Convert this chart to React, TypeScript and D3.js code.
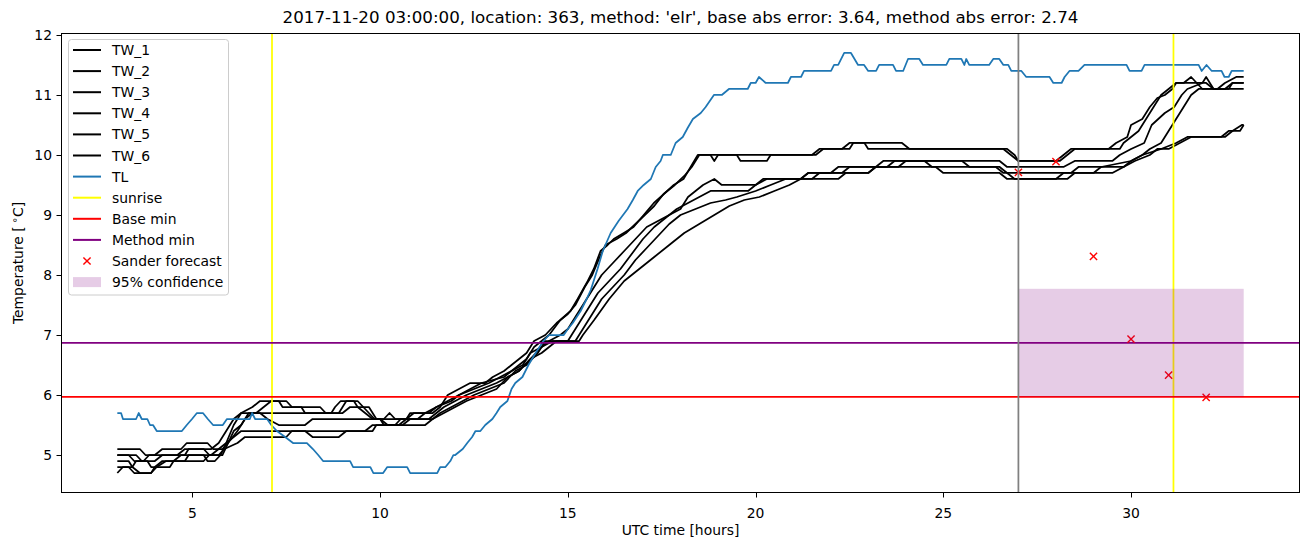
import React from 'react';
import * as d3 from 'd3';

type P = [number, number];

const TW_1: P[] = [[3,5.0],[3.3,5.0],[3.45,4.9],[3.7,4.9],[3.85,5.0],[4.8,5.0],[4.9,5.1],[5.5,5.1],[5.7,5.2],[5.9,5.4],[6.1,5.6],[6.3,5.7],[6.7,5.7],[6.9,5.8],[7.1,5.9],[7.5,5.9],[7.65,5.8],[8.4,5.8],[8.55,5.7],[8.9,5.7],[9.0,5.8],[9.1,5.9],[9.4,5.9],[9.55,5.8],[9.7,5.7],[9.85,5.6],[10.1,5.6],[10.25,5.7],[10.4,5.6],[11.0,5.6],[11.2,5.7],[11.5,5.8],[11.9,5.9],[12.1,6.0],[12.4,6.1],[12.7,6.2],[13.3,6.3],[13.5,6.4],[13.7,6.5],[13.9,6.6],[14.1,6.8],[14.3,6.9],[14.5,7.0],[14.8,7.25],[15.07,7.4],[15.26,7.6],[15.53,7.9],[15.69,8.1],[15.87,8.4],[16.06,8.5],[16.22,8.6],[16.49,8.7],[16.75,8.8],[17.02,9.0],[17.29,9.2],[17.47,9.3],[17.82,9.5],[18.08,9.6],[18.27,9.8],[18.46,10.0],[18.8,10.0],[18.9,9.9],[19.0,10.0],[21.5,10.0],[21.7,10.1],[22.3,10.1],[22.5,10.2],[23.9,10.2],[24.1,10.1],[26.6,10.1],[26.8,10.0],[27.0,9.9],[28.0,9.9],[28.2,10.0],[28.4,10.1],[29.4,10.1],[29.6,10.2],[29.9,10.3],[30.0,10.5],[30.3,10.6],[30.5,10.8],[30.7,10.95],[30.9,11.0],[31.1,11.1],[31.2,11.2],[32.0,11.2],[32.2,11.1],[32.5,11.1],[32.7,11.2],[33,11.2]];
const TW_2: P[] = [[3,4.9],[3.3,4.9],[3.4,4.8],[3.6,4.7],[3.9,4.7],[4.0,4.8],[4.2,4.9],[4.8,4.9],[4.9,5.0],[5.3,5.0],[5.4,4.9],[5.6,4.9],[5.75,5.0],[5.9,5.2],[6.1,5.5],[6.3,5.7],[6.6,5.8],[6.8,5.9],[7.3,5.9],[7.4,5.8],[7.9,5.8],[8.0,5.7],[8.7,5.7],[8.8,5.8],[8.95,5.9],[9.3,5.9],[9.4,5.8],[9.7,5.8],[9.8,5.7],[9.9,5.6],[10.0,5.6],[10.1,5.5],[10.4,5.5],[10.55,5.6],[10.7,5.6],[10.8,5.7],[11.4,5.7],[11.6,5.8],[11.8,6.0],[12.1,6.1],[12.4,6.2],[12.8,6.2],[13.0,6.3],[13.3,6.4],[13.5,6.5],[13.7,6.6],[13.9,6.7],[14.1,6.9],[14.4,7.0],[14.7,7.2],[15.0,7.35],[15.2,7.5],[15.45,7.8],[15.65,8.0],[15.85,8.3],[16.0,8.5],[16.3,8.6],[16.55,8.7],[16.8,8.85],[17.05,9.0],[17.3,9.15],[17.55,9.35],[17.85,9.5],[18.1,9.65],[18.3,9.8],[18.5,10.0],[19.5,10.0],[19.6,9.9],[20.3,9.9],[20.4,10.0],[21.6,10.0],[21.8,10.1],[22.5,10.1],[22.6,10.2],[22.9,10.2],[23.0,10.1],[26.7,10.1],[26.9,10.0],[27.0,9.9],[28.1,9.9],[28.3,10.0],[28.5,10.1],[29.7,10.1],[29.8,10.2],[30.0,10.3],[30.2,10.4],[30.4,10.6],[30.6,10.8],[30.8,11.0],[31.0,11.1],[31.2,11.2],[31.4,11.2],[31.6,11.3],[31.75,11.2],[31.9,11.1],[32.3,11.1],[32.5,11.2],[32.8,11.3],[33,11.3]];
const TW_3: P[] = [[3,5.1],[3.6,5.1],[3.75,5.0],[4.0,5.0],[4.2,5.1],[4.7,5.1],[4.85,5.2],[5.4,5.2],[5.55,5.1],[5.8,5.1],[5.95,5.2],[6.1,5.4],[6.3,5.5],[6.5,5.7],[9.0,5.7],[9.2,5.8],[9.4,5.8],[9.6,5.7],[9.8,5.6],[10.7,5.6],[10.9,5.7],[11.3,5.7],[11.5,5.8],[11.8,5.9],[12.1,6.0],[12.5,6.1],[12.9,6.2],[13.2,6.3],[13.5,6.4],[13.8,6.5],[14.0,6.7],[14.3,6.8],[14.5,6.9],[14.8,7.0],[15.0,7.1],[15.2,7.3],[15.4,7.5],[15.6,7.7],[15.9,8.0],[16.2,8.2],[16.5,8.4],[16.8,8.6],[17.1,8.8],[17.4,8.9],[17.7,9.0],[18.0,9.1],[18.2,9.3],[18.4,9.4],[18.6,9.5],[18.9,9.6],[19.1,9.5],[20.0,9.5],[20.2,9.6],[21.2,9.6],[21.4,9.7],[22.3,9.7],[22.5,9.8],[23.2,9.8],[23.4,9.9],[26.5,9.9],[26.7,9.8],[28.2,9.8],[28.5,9.9],[29.5,9.9],[29.7,10.0],[30.0,10.1],[30.35,10.2],[30.55,10.5],[30.9,10.7],[31.15,10.8],[31.35,11.0],[31.5,11.1],[31.9,11.2],[32.0,11.3],[32.2,11.1],[32.6,11.1],[32.7,11.2],[33,11.2]];
const TW_4: P[] = [[3,4.8],[3.4,4.8],[3.5,4.9],[3.8,4.9],[3.9,4.8],[4.4,4.8],[4.5,4.9],[4.7,5.0],[5.5,5.0],[5.7,5.1],[5.9,5.2],[6.1,5.3],[6.3,5.4],[9.6,5.4],[9.8,5.5],[10.5,5.5],[10.7,5.6],[11.4,5.6],[11.6,5.7],[11.9,5.8],[12.2,5.9],[12.5,6.0],[12.9,6.1],[13.3,6.2],[13.6,6.4],[13.9,6.5],[14.2,6.7],[14.4,6.9],[15.0,6.9],[15.1,7.0],[15.2,7.1],[15.5,7.4],[15.8,7.7],[16.1,7.9],[16.4,8.1],[16.7,8.35],[17.0,8.6],[17.3,8.8],[17.6,8.95],[17.9,9.1],[18.2,9.2],[18.5,9.3],[18.8,9.4],[19.8,9.4],[20.0,9.5],[20.3,9.6],[21.5,9.6],[21.7,9.7],[22.0,9.7],[22.2,9.8],[23.5,9.8],[23.7,9.9],[24.5,9.9],[24.7,9.8],[26.4,9.8],[26.6,9.7],[28.4,9.7],[28.6,9.8],[29.8,9.8],[30.0,9.9],[30.3,10.0],[30.5,10.1],[30.8,10.2],[31.0,10.4],[31.2,10.6],[31.4,10.8],[31.6,11.0],[31.8,11.1],[33,11.1]];
const TW_5: P[] = [[3,4.7],[3.15,4.8],[3.3,4.8],[3.45,4.7],[3.9,4.7],[4.05,4.8],[4.3,4.9],[5.3,4.9],[5.45,5.0],[5.7,5.0],[5.85,5.1],[6.2,5.2],[6.4,5.3],[7.5,5.3],[7.65,5.4],[8.0,5.4],[8.2,5.3],[8.9,5.3],[9.1,5.4],[9.8,5.4],[9.9,5.5],[11.2,5.5],[11.4,5.6],[11.7,5.7],[12.0,5.8],[12.3,5.9],[12.7,6.0],[13.1,6.1],[13.4,6.3],[13.7,6.4],[14.0,6.6],[14.3,6.7],[14.5,6.8],[14.7,6.9],[15.2,6.9],[15.3,7.0],[15.6,7.3],[15.9,7.6],[16.2,7.8],[16.5,8.0],[16.8,8.25],[17.1,8.45],[17.4,8.65],[17.7,8.85],[18.0,9.0],[18.4,9.1],[18.8,9.2],[19.2,9.25],[19.5,9.3],[20.0,9.4],[20.4,9.5],[20.8,9.6],[22.2,9.6],[22.4,9.7],[23.0,9.7],[23.2,9.8],[23.8,9.8],[24.0,9.9],[25.5,9.9],[25.7,9.8],[26.5,9.8],[26.7,9.7],[26.9,9.6],[28.0,9.6],[28.2,9.7],[29.0,9.7],[29.2,9.8],[30.0,9.9],[30.3,10.0],[30.8,10.1],[31.2,10.2],[31.5,10.3],[32.4,10.3],[32.6,10.4],[32.9,10.4],[33,10.5]];
const TW_6: P[] = [[3,5.0],[3.5,5.0],[3.65,4.9],[4.0,4.9],[4.2,5.0],[4.6,5.0],[4.8,5.1],[5.3,5.1],[5.45,5.0],[5.8,5.0],[5.95,5.2],[6.2,5.4],[6.4,5.6],[6.6,5.7],[6.8,5.7],[7.0,5.6],[7.3,5.5],[8.0,5.5],[8.2,5.6],[10.0,5.6],[10.2,5.5],[10.6,5.5],[10.8,5.6],[11.3,5.6],[11.5,5.7],[11.7,5.8],[12.0,5.9],[12.3,6.0],[12.7,6.1],[13.1,6.2],[13.4,6.3],[13.7,6.4],[14.0,6.6],[14.3,6.8],[14.6,6.9],[15.3,6.9],[15.4,7.0],[15.7,7.25],[16.1,7.6],[16.5,7.9],[16.9,8.1],[17.3,8.3],[17.7,8.5],[18.1,8.7],[18.5,8.85],[18.9,9.0],[19.3,9.15],[19.7,9.25],[20.1,9.3],[20.5,9.4],[20.9,9.5],[21.2,9.6],[21.4,9.7],[23.0,9.7],[23.2,9.8],[24.8,9.8],[25.0,9.7],[26.5,9.7],[26.7,9.6],[28.3,9.6],[28.5,9.7],[29.5,9.7],[29.8,9.8],[30.1,9.9],[30.5,10.0],[30.7,10.1],[31.0,10.1],[31.3,10.2],[31.6,10.3],[32.5,10.3],[32.7,10.4],[32.95,10.5],[33,10.5]];
const TL: P[] = [[3.0,5.7],[3.1,5.7],[3.15,5.6],[3.5,5.6],[3.57,5.7],[3.65,5.6],[3.8,5.6],[3.87,5.5],[3.95,5.5],[4.05,5.4],[4.72,5.4],[4.85,5.5],[4.99,5.6],[5.12,5.7],[5.28,5.7],[5.41,5.6],[5.55,5.5],[5.81,5.5],[5.92,5.6],[6.53,5.6],[6.59,5.7],[6.67,5.6],[6.99,5.6],[7.1,5.5],[7.25,5.4],[7.47,5.3],[7.68,5.2],[8.05,5.2],[8.21,5.1],[8.35,5.0],[8.48,4.9],[9.2,4.9],[9.28,4.8],[9.74,4.8],[9.82,4.7],[10.08,4.7],[10.19,4.8],[10.72,4.8],[10.8,4.7],[11.52,4.7],[11.6,4.8],[11.74,4.8],[11.87,4.9],[11.95,5.0],[12.0,5.0],[12.2,5.1],[12.32,5.2],[12.45,5.3],[12.54,5.4],[12.67,5.4],[12.8,5.5],[12.99,5.6],[13.1,5.7],[13.2,5.8],[13.39,5.9],[13.5,6.1],[13.6,6.2],[13.79,6.3],[13.95,6.5],[14.14,6.7],[14.35,6.9],[14.5,7.0],[14.62,7.0],[14.89,7.0],[15.0,7.1],[15.13,7.2],[15.34,7.4],[15.5,7.6],[15.61,7.75],[15.79,8.1],[15.93,8.4],[16.14,8.7],[16.35,8.9],[16.59,9.1],[16.73,9.25],[16.86,9.4],[17.02,9.5],[17.21,9.6],[17.34,9.8],[17.47,9.9],[17.53,10.0],[17.74,10.0],[17.87,10.2],[18.06,10.3],[18.19,10.45],[18.33,10.6],[18.54,10.7],[18.67,10.8],[18.89,11.0],[19.1,11.0],[19.29,11.1],[19.79,11.1],[19.87,11.2],[20.0,11.2],[20.09,11.3],[20.27,11.2],[20.86,11.2],[20.94,11.3],[21.21,11.3],[21.29,11.4],[22.01,11.4],[22.09,11.5],[22.2,11.5],[22.36,11.7],[22.54,11.7],[22.73,11.5],[22.89,11.5],[23.0,11.4],[23.21,11.4],[23.29,11.5],[23.66,11.5],[23.74,11.4],[23.93,11.4],[24.06,11.6],[24.36,11.6],[24.46,11.5],[25.08,11.5],[25.16,11.6],[25.48,11.6],[25.56,11.5],[25.61,11.6],[25.69,11.5],[26.22,11.5],[26.33,11.6],[26.49,11.6],[26.6,11.5],[26.73,11.5],[26.81,11.4],[27.08,11.4],[27.21,11.3],[27.83,11.3],[27.93,11.2],[28.15,11.2],[28.23,11.3],[28.36,11.4],[28.6,11.4],[28.76,11.5],[29.88,11.5],[29.96,11.4],[30.28,11.4],[30.36,11.5],[31.8,11.5],[31.88,11.4],[32.01,11.5],[32.15,11.4],[32.41,11.4],[32.49,11.3],[32.6,11.3],[32.68,11.4],[33.0,11.4]];

const TW_NAMES = ['TW_1', 'TW_2', 'TW_3', 'TW_4', 'TW_5', 'TW_6'];
const TW_SERIES = [TW_1, TW_2, TW_3, TW_4, TW_5, TW_6];
const SUNRISE = [7.12, 31.13];
const FORECAST_TIME = 27;
const BASE_MIN = 5.97;
const METHOD_MIN = 6.87;
const SANDER_T = [27, 28, 29, 30, 31, 32];
const SANDER_V = [9.71, 9.89, 8.31, 6.93, 6.33, 5.96];
const CONF_T = [27, 33];
const CONF_V = [5.97, 7.77];
const X_TICKS = [5, 10, 15, 20, 25, 30];
const Y_TICKS = [5, 6, 7, 8, 9, 10, 11, 12];
const TITLE = "2017-11-20 03:00:00, location: 363, method: 'elr', base abs error: 3.64, method abs error: 2.74";

const W = 1311, H = 547;
const L = 61, R = 1300, T = 33, B = 493;
const FONT = 'DejaVu Sans, sans-serif';
const FS = 13.9;

export default function App() {
  const x = d3.scaleLinear().domain([1.5, 34.5]).range([L, R]);
  const y = d3.scaleLinear().domain([4.367, 12.033]).range([B, T]);
  const line = d3.line<P>().x(d => x(d[0])).y(d => y(d[1]));
  const lw = 1.75;

  const legendItems: { label: string; kind: string; color: string }[] = [
    ...TW_NAMES.map(n => ({ label: n, kind: 'line', color: '#000000' })),
    { label: 'TL', kind: 'line', color: '#1f77b4' },
    { label: 'sunrise', kind: 'line', color: '#ffff00' },
    { label: 'Base min', kind: 'line', color: '#ff0000' },
    { label: 'Method min', kind: 'line', color: '#800080' },
    { label: 'Sander forecast', kind: 'marker', color: '#ff0000' },
    { label: '95% confidence', kind: 'patch', color: '#800080' },
  ];

  const xMark = (cx: number, cy: number, s: number, key: string) => (
    <g key={key} stroke="#ff0000" strokeWidth={1.4}>
      <line x1={cx - s} y1={cy - s} x2={cx + s} y2={cy + s} />
      <line x1={cx - s} y1={cy + s} x2={cx + s} y2={cy - s} />
    </g>
  );

  return (
    <svg width={W} height={H} style={{ position: 'absolute', left: 0, top: 0, background: '#fff' }} fontFamily={FONT}>
      <rect x={0} y={0} width={W} height={H} fill="#ffffff" />
      <defs>
        <clipPath id="plotclip"><rect x={L} y={T} width={R - L} height={B - T} /></clipPath>
      </defs>
      <g clipPath="url(#plotclip)">
        {TW_SERIES.map((s, i) => (
          <path key={i} d={line(s) || ''} fill="none" stroke="#000" strokeWidth={lw} strokeLinejoin="round" />
        ))}
        <path d={line(TL) || ''} fill="none" stroke="#1f77b4" strokeWidth={lw} strokeLinejoin="round" />
        {SUNRISE.map((t, i) => (
          <line key={i} x1={x(t)} x2={x(t)} y1={T} y2={B} stroke="#ffff00" strokeWidth={lw} />
        ))}
        <line x1={L} x2={R} y1={y(BASE_MIN)} y2={y(BASE_MIN)} stroke="#ff0000" strokeWidth={lw} />
        <line x1={L} x2={R} y1={y(METHOD_MIN)} y2={y(METHOD_MIN)} stroke="#800080" strokeWidth={lw} />
        {SANDER_T.map((t, i) => xMark(x(t), y(SANDER_V[i]), 3.6, 's' + i))}
        <rect x={x(CONF_T[0])} y={y(CONF_V[1])} width={x(CONF_T[1]) - x(CONF_T[0])} height={y(CONF_V[0]) - y(CONF_V[1])} fill="#800080" fillOpacity={0.2} />
        <line x1={x(FORECAST_TIME)} x2={x(FORECAST_TIME)} y1={T} y2={B} stroke="#808080" strokeWidth={lw} />
      </g>
      <rect x={L + 0.5} y={T + 0.5} width={R - L - 1} height={B - T - 1} fill="none" stroke="#000" strokeWidth={1} />
      {X_TICKS.map(t => (
        <g key={t}>
          <line x1={Math.round(x(t)) + 0.5} x2={Math.round(x(t)) + 0.5} y1={B} y2={B + 4.5} stroke="#000" strokeWidth={1} />
          <text x={x(t)} y={B + 24.5} fontSize={FS} textAnchor="middle" fill="#000">{t}</text>
        </g>
      ))}
      {Y_TICKS.map(v => (
        <g key={v}>
          <line x1={L - 4.5} x2={L} y1={Math.round(y(v)) + 0.5} y2={Math.round(y(v)) + 0.5} stroke="#000" strokeWidth={1} />
          <text x={L - 9} y={y(v) + 5} fontSize={FS} textAnchor="end" fill="#000">{v}</text>
        </g>
      ))}
      <text x={(L + R) / 2} y={23} fontSize={16.7} textAnchor="middle" fill="#000">{TITLE}</text>
      <text x={(L + R) / 2} y={535} fontSize={FS} textAnchor="middle" fill="#000">UTC time [hours]</text>
      <text transform={`translate(23, ${(T + B) / 2}) rotate(-90)`} fontSize={FS} textAnchor="middle" fill="#000">
        <tspan>Temperature [</tspan>
        <tspan dx={3} dy={-5} fontSize={10}>∘</tspan>
        <tspan dy={5}>C]</tspan>
      </text>
      <g>
        <rect x={68.5} y={39.5} width={160} height={255.5} rx={3} fill="#ffffff" fillOpacity={0.8} stroke="#cccccc" strokeWidth={1} />
        {legendItems.map((it, i) => {
          const cy = 50 + i * 21.1;
          let handle;
          if (it.kind === 'line') {
            handle = <line x1={73} x2={101} y1={cy} y2={cy} stroke={it.color} strokeWidth={2} />;
          } else if (it.kind === 'marker') {
            handle = xMark(87, cy, 3.6, 'lm');
          } else {
            handle = <rect x={73} y={cy - 5} width={28} height={10} fill={it.color} fillOpacity={0.2} />;
          }
          return (
            <g key={it.label}>
              {handle}
              <text x={112} y={cy + 5} fontSize={FS} fill="#000">{it.label}</text>
            </g>
          );
        })}
      </g>
    </svg>
  );
}
